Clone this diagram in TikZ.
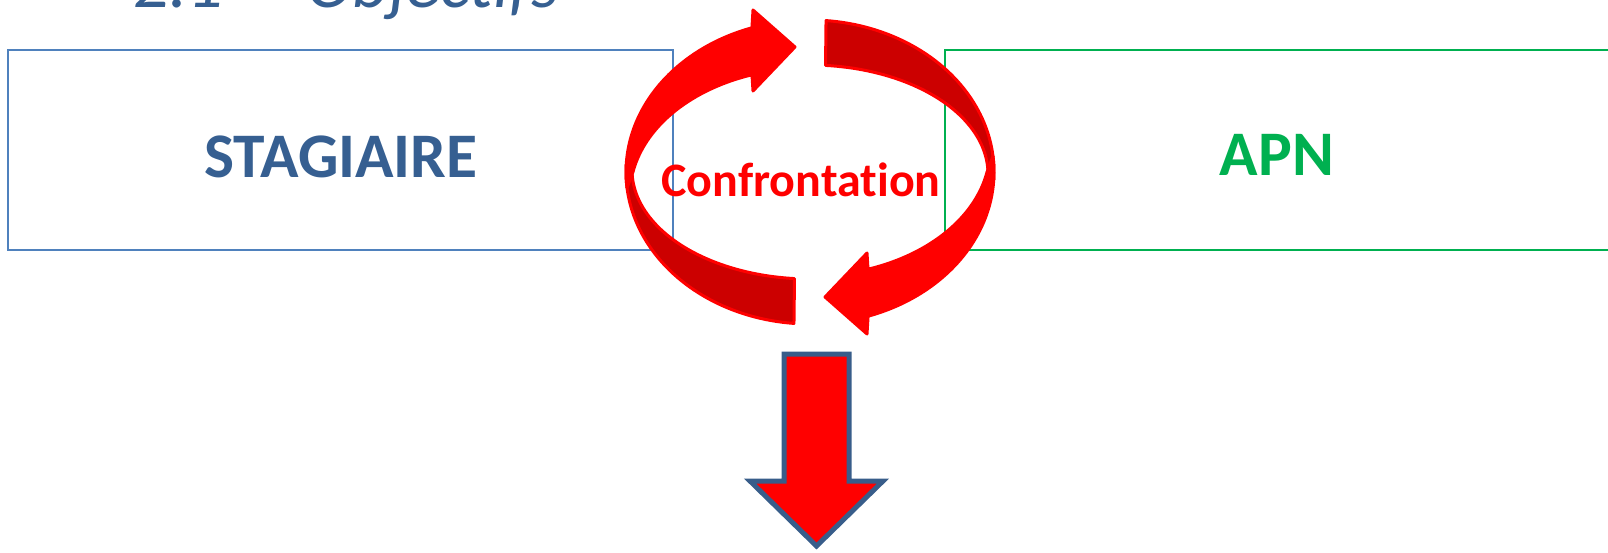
\documentclass[tikz,border=0pt]{standalone}
\usepackage{fontspec}
\setmainfont{Carlito}[Ligatures=NoCommon]
\definecolor{boxblue}{HTML}{4F81BD}
\definecolor{apngreen}{HTML}{00B050}
\definecolor{textblue}{HTML}{365F91}
\definecolor{darkband}{HTML}{CC0000}
\definecolor{brightred}{HTML}{FF0000}
\definecolor{outlineblue}{HTML}{385D8A}
\tikzset{
  framebox/.style={rectangle, line width=1.5pt, inner sep=0pt, fill=none},
  bigword/.style={anchor=base, inner sep=0pt, font=\fontsize{63.5}{70}\selectfont\bfseries},
  backband/.style={fill=darkband, draw=brightred, line width=3pt, line join=round},
  frontband/.style={fill=brightred, draw=brightred, line width=3pt, line join=round},
}
\newcommand\backpart{%
  \path[backband]
    plot[domain=95:183, samples=50, variable=\t] ({810+184*cos(\t)},{172+152*sin(\t)})
    -- plot[domain=183:95, samples=50, variable=\t] ({810+178*cos(\t)},{170+109*sin(\t)})
    -- cycle;}
\newcommand\frontpart{%
  \path[frontband]
    plot[domain=174:251.6, samples=50, variable=\t] ({810+184*cos(\t)},{172+152*sin(\t)})
    -- (753,10) -- (795,47) -- (753,91)
    -- plot[domain=251.2:190.5, samples=50, variable=\t] ({810+180*cos(\t)},{195+127*sin(\t)})
    -- cycle;}
\begin{document}
\begin{tikzpicture}[x=1pt,y=-1pt]
\useasboundingbox (0,0) rectangle (1608,553);
\clip (0,0) rectangle (1608,553);
% title (cut by top edge)
\node (num) [anchor=base west, inner sep=0pt, text=textblue, font=\fontsize{71}{80}\selectfont\itshape] at (133,8) {2.1};
\node (obj) [anchor=base west, inner sep=0pt, text=textblue, font=\fontsize{71}{80}\selectfont\itshape] at (306,8) {Objectifs};
% boxes
\node (stagbox) [framebox, draw=boxblue, minimum width=665pt, minimum height=200pt] at (340.5,150) {};
\node (apnbox) [framebox, draw=apngreen, minimum width=680pt, minimum height=200pt] at (1285,150) {};
% cycle arrows
\backpart
\begin{scope}[rotate around={180:(810,172)}]\backpart\end{scope}
\frontpart
\begin{scope}[rotate around={180:(810,172)}]\frontpart\end{scope}
% texts
\node (stag) [bigword, text=textblue] at (341,178) {STAGIAIRE};
\node (apn) [bigword, text=apngreen] at (1277,176) {APN};
\node (conf) [anchor=base, inner sep=0pt, text=brightred, font=\fontsize{48}{55}\selectfont\bfseries] at (801,197) {Confrontation};
% down arrow
\path[fill=brightred, draw=outlineblue, line width=5pt, line join=miter]
  (784,354) -- (849,354) -- (849,481) -- (883,481) -- (816.5,546) -- (750,481) -- (784,481) -- cycle;
\end{tikzpicture}
\end{document}
